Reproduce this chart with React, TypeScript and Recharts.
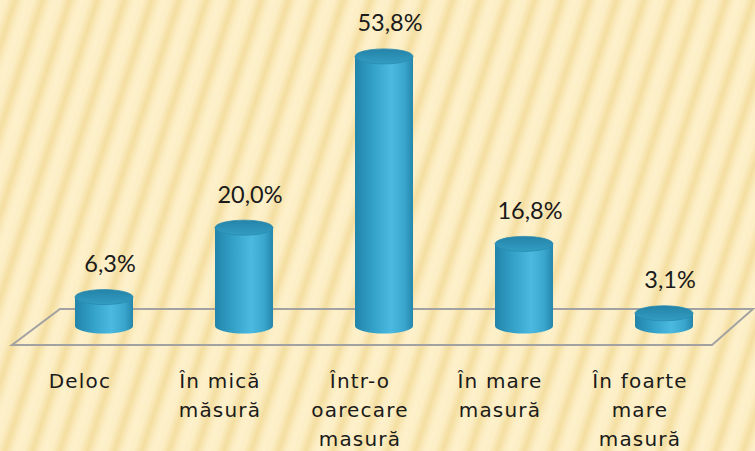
import React from "react";
import { BarChart, Bar, XAxis, YAxis, LabelList } from "recharts";

const categories = ["Deloc", "În mică\nmăsură", "Într-o\noarecare\nmasură", "În mare\nmasură", "În foarte\nmare\nmasură"];
const values = [6.3, 20.0, 53.8, 16.8, 3.1];
const valueLabels = ["6,3%", "20,0%", "53,8%", "16,8%", "3,1%"];

const data = categories.map((c, i) => ({ name: c, value: values[i], label: valueLabels[i] }));

const W = 755;
const H = 451;
const M = { top: 25, right: 21, bottom: 10, left: 34 };
const AXIS_H = 112;
const plotLeft = M.left;
const plotRight = W - M.right;
const plotBottom = H - M.bottom - AXIS_H;

const Cylinder = (props: any) => {
  const { x, y, width, height } = props;
  if (width == null || height == null) return null;
  const rx = width / 2;
  const ry = 7.5;
  const yb = y + height - 3;
  const d = `M${x},${y} L${x},${yb} A${rx},${ry} 0 0 0 ${x + width},${yb} L${x + width},${y} Z`;
  return (
    <g>
      <path d={d} fill="url(#cylBody)" />
      <ellipse cx={x + rx} cy={y} rx={rx} ry={ry} fill="url(#cylTop)" stroke="#2a8ab0" strokeWidth={0.8} />
    </g>
  );
};

const CatTick = (props: any) => {
  const { x, y, payload } = props;
  const lines = String(payload.value).split("\n");
  return (
    <g>
      {lines.map((l, i) => (
        <text
          key={i}
          x={x - 24}
          y={y + 59 + i * 29}
          textAnchor="middle"
          fontFamily="DejaVu Sans"
          fontSize={20}
          letterSpacing={1.2}
          fill="#1a1a1a"
        >
          {l}
        </text>
      ))}
    </g>
  );
};

const ValLabel = (props: any) => {
  const { x, y, width, value } = props;
  return (
    <text x={x + width / 2 + 6} y={y - 25} textAnchor="middle" fontFamily="Lato" fontSize={23.5} fill="#1a1a1a">
      {value}
    </text>
  );
};

export default function App() {
  return (
    <div style={{ position: "absolute", left: 0, top: 0, width: W, height: H, overflow: "hidden" }}>
      <svg width={W} height={H} style={{ position: "absolute", left: 0, top: 0 }}>
        <defs>
          <linearGradient id="stripeGrad" x1="0" y1="0" x2="1" y2="0">
            <stop offset="0" stopColor="#FDF1CB" />
            <stop offset="0.25" stopColor="#FCEEC5" />
            <stop offset="0.55" stopColor="#F4DEA0" />
            <stop offset="0.85" stopColor="#FCEEC5" />
            <stop offset="1" stopColor="#FDF1CB" />
          </linearGradient>
          <pattern id="stripes" width="26" height="60" patternUnits="userSpaceOnUse" patternTransform="rotate(18)">
            <rect width="26" height="60" fill="url(#stripeGrad)" />
          </pattern>
        </defs>
        <rect width={W} height={H} fill="url(#stripes)" />
        <polygon
          points={`${plotLeft + 26},${plotBottom - 20} ${plotRight + 19},${plotBottom - 20} ${plotRight - 22},${plotBottom + 16} ${plotLeft - 22},${plotBottom + 16}`}
          fill="none"
          stroke="#a2a2a2"
          strokeWidth={2}
        />
      </svg>
      <div style={{ position: "absolute", left: 0, top: 0 }}>
        <BarChart width={W} height={H} data={data} margin={M} barSize={58}>
          <defs>
            <linearGradient id="cylBody" x1="0" y1="0" x2="1" y2="0">
              <stop offset="0" stopColor="#2284A9" />
              <stop offset="0.3" stopColor="#33A0C7" />
              <stop offset="0.62" stopColor="#4CBAE0" />
              <stop offset="0.85" stopColor="#3AA6CD" />
              <stop offset="1" stopColor="#2587AC" />
            </linearGradient>
            <linearGradient id="cylTop" x1="0" y1="0" x2="0" y2="1">
              <stop offset="0" stopColor="#2483A8" />
              <stop offset="1" stopColor="#339DC2" />
            </linearGradient>
          </defs>
          <XAxis dataKey="name" axisLine={false} tickLine={false} tickSize={0} tickMargin={0} interval={0} height={AXIS_H} tick={<CatTick />} />
          <YAxis hide domain={[0, 60]} />
          <Bar dataKey="value" shape={<Cylinder />} isAnimationActive={false}>
            <LabelList dataKey="label" content={<ValLabel />} />
          </Bar>
        </BarChart>
      </div>
    </div>
  );
}
